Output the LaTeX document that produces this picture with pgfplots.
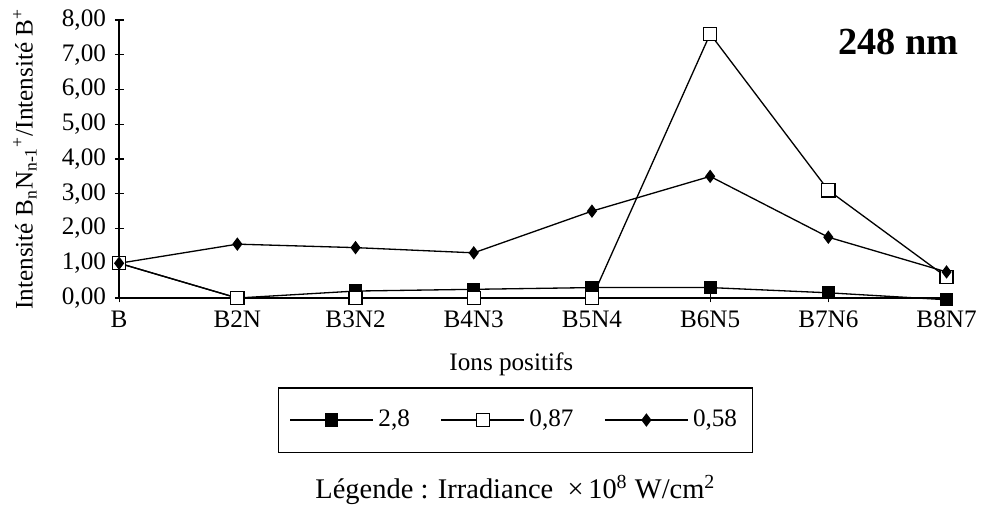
\documentclass[border=0pt]{standalone}
\usepackage{fontspec}
\setmainfont{Liberation Serif}
\usepackage{pgfplots}
\pgfplotsset{compat=1.18}
\begin{document}
\fontsize{11.5}{13.8}\selectfont
\begin{tikzpicture}
\begin{axis}[
    scale only axis,
    width=378pt, height=127pt,
    xmin=0, xmax=7, ymin=0, ymax=8,
    axis lines*=left,
    axis line style={black, line width=0.6pt},
    xtick={0,...,7},
    xticklabels={B,B2N,B3N2,B4N3,B5N4,B6N5,B7N6,B8N7},
    ytick={0,...,8},
    tick align=center,
    major tick length=4pt,
    tick style={black, line width=0.5pt},
    tick label style={font=\fontsize{11.5}{13.8}\selectfont},
    /pgf/number format/assume math mode=true,
    yticklabel style={/pgf/number format/fixed, /pgf/number format/fixed zerofill,
        /pgf/number format/precision=2, /pgf/number format/use comma},
    xlabel={Ions positifs},
    xlabel style={at={(axis description cs:0.474,-0.239)}, anchor=center, font=\fontsize{11.5}{13.8}\selectfont},
    ylabel={Intensité B\textsubscript{n}N\textsubscript{n-1}\textsuperscript{+}/Intensité B\textsuperscript{+}},
    ylabel style={at={(axis description cs:-0.114,0.5)}, anchor=center, font=\fontsize{11.5}{13.8}\selectfont},
    clip=false,
    legend columns=3,
    legend style={at={(axis description cs:0.192,-0.321)}, anchor=north west,
        draw=black, line width=0.6pt, inner xsep=5pt, inner ysep=8pt,
        font=\fontsize{11.5}{13.8}\selectfont,
        /tikz/every even column/.append style={column sep=12pt}},
    legend image code/.code={
        \draw[mark repeat=2, mark phase=2, #1] plot coordinates {(0pt,0pt) (19pt,0pt) (38pt,0pt)};
    },
]
% 2,8
\addplot[black, line width=0.6pt, mark=square*, mark size=2.7pt] coordinates {
    (0,1.00) (1,0.00) (2,0.20) (3,0.25) (4,0.30) (5,0.30) (6,0.15) (7,-0.05)
};
\addlegendentry{2,8}
% 0,87
\addplot[black, line width=0.6pt, mark=square*, mark options={fill=white}, mark size=3pt] coordinates {
    (0,1.00) (1,0.00) (2,0.00) (3,0.00) (4,0.00) (5,7.60) (6,3.10) (7,0.60)
};
\addlegendentry{0,87}
% 0,58
\addplot[black, line width=0.6pt, mark=diamond*, mark size=2.6pt] coordinates {
    (0,1.00) (1,1.55) (2,1.45) (3,1.30) (4,2.50) (5,3.50) (6,1.75) (7,0.75)
};
\addlegendentry{0,58}
\node[font=\fontsize{17.5}{21}\selectfont\bfseries] at (axis description cs:0.942,0.92) {248 nm};
\node[font=\fontsize{13}{15.6}\selectfont] at (axis description cs:0.479,-0.69) {Légende : Irradiance \ ×\,10\textsuperscript{8} W/cm\textsuperscript{2}};
\path (axis description cs:-0.144,-0.764) rectangle (axis description cs:1.04,1.071);
\end{axis}
\end{tikzpicture}
\end{document}
